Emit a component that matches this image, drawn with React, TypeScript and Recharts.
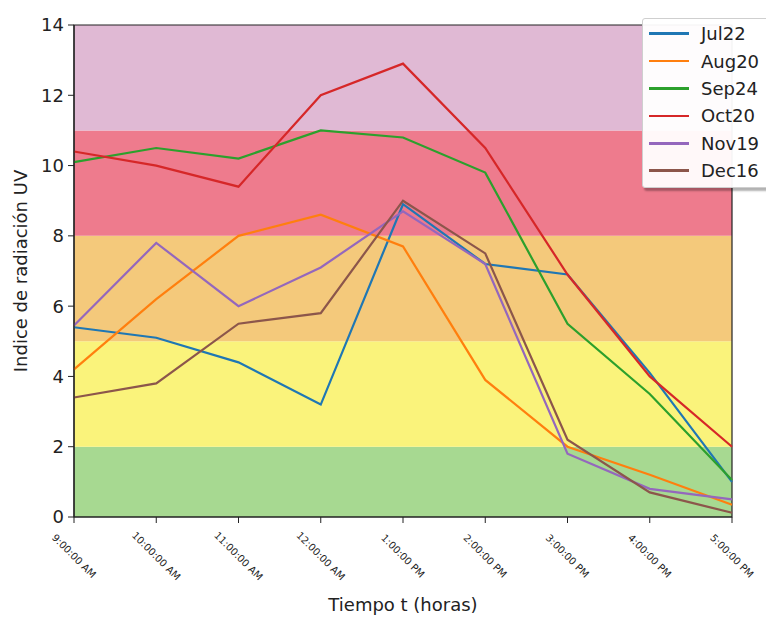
import React from 'react';
import {
  LineChart,
  Line,
  XAxis,
  YAxis,
  ReferenceArea,
  Label,
} from 'recharts';

const HOURS = [
  '9:00:00 AM',
  '10:00:00 AM',
  '11:00:00 AM',
  '12:00:00 AM',
  '1:00:00 PM',
  '2:00:00 PM',
  '3:00:00 PM',
  '4:00:00 PM',
  '5:00:00 PM',
];

const JUL22 = [5.4, 5.1, 4.4, 3.2, 8.9, 7.2, 6.9, 4.1, 1.0];
const AUG20 = [4.2, 6.2, 8.0, 8.6, 7.7, 3.9, 2.0, 1.2, 0.35];
const SEP24 = [10.1, 10.5, 10.2, 11.0, 10.8, 9.8, 5.5, 3.5, 1.05];
const OCT20 = [10.4, 10.0, 9.4, 12.0, 12.9, 10.5, 6.9, 4.0, 2.0];
const NOV19 = [5.45, 7.8, 6.0, 7.1, 8.7, 7.2, 1.8, 0.8, 0.5];
const DEC16 = [3.4, 3.8, 5.5, 5.8, 9.0, 7.5, 2.2, 0.7, 0.12];

const Y_TICKS = [0, 2, 4, 6, 8, 10, 12, 14];

// UV risk bands: [from, to, colour]
const BANDS: [number, number, string][] = [
  [0, 2, '#a7d991'],
  [2, 5, '#faf37b'],
  [5, 8, '#f4c97b'],
  [8, 11, '#ee7b8d'],
  [11, 14, '#e0b9d4'],
];

const SERIES = [
  { key: 'Jul22', values: JUL22, color: '#1f77b4' },
  { key: 'Aug20', values: AUG20, color: '#ff7f0e' },
  { key: 'Sep24', values: SEP24, color: '#2ca02c' },
  { key: 'Oct20', values: OCT20, color: '#d62728' },
  { key: 'Nov19', values: NOV19, color: '#9467bd' },
  { key: 'Dec16', values: DEC16, color: '#8c564b' },
];

const rows = HOURS.map((h, i) => {
  const row: Record<string, number | string> = { idx: i, hour: h };
  SERIES.forEach((s) => {
    row[s.key] = s.values[i];
  });
  return row;
});

const FONT = '"DejaVu Sans", sans-serif';
const INK = '#222';

function HourTick({ x, y, payload }: any) {
  const cy = y + 31;
  return (
    <text
      x={x}
      y={cy}
      transform={`rotate(45 ${x} ${cy})`}
      textAnchor="middle"
      dominantBaseline="central"
      fontSize={10}
      fontFamily={FONT}
      fill={INK}
    >
      {HOURS[payload.value]}
    </text>
  );
}

function LegendBox() {
  return (
    <div
      style={{
        position: 'absolute',
        left: 642,
        top: 18,
        width: 130,
        height: 170,
        boxSizing: 'border-box',
        background: 'rgba(255,255,255,0.95)',
        border: '1px solid #cfcfcf',
        borderRadius: 3,
        boxShadow: '2px 3px 2px rgba(0,0,0,0.3)',
        paddingTop: 1,
        fontFamily: FONT,
        fontSize: 18,
        color: INK,
      }}
    >
      {SERIES.map((s) => (
        <div
          key={s.key}
          style={{ display: 'flex', alignItems: 'center', height: 27.4 }}
        >
          <span
            style={{
              display: 'inline-block',
              width: 40,
              height: 2.5,
              marginLeft: 6,
              marginRight: 12,
              background: s.color,
            }}
          />
          <span>{s.key}</span>
        </div>
      ))}
    </div>
  );
}

export default function App() {
  return (
    <div
      style={{
        position: 'absolute',
        left: 0,
        top: 0,
        width: 766,
        height: 617,
        overflow: 'hidden',
        background: '#fff',
      }}
    >
      <LineChart
        width={766}
        height={617}
        data={rows}
        margin={{ top: 25, right: 34, bottom: 0, left: 0 }}
      >
        {BANDS.map(([y1, y2, c]) => (
          <ReferenceArea
            key={y1}
            y1={y1}
            y2={y2}
            fill={c}
            fillOpacity={1}
            stroke="none"
            ifOverflow="hidden"
          />
        ))}
        <XAxis
          dataKey="idx"
          type="number"
          domain={[0, 8]}
          ticks={HOURS.map((_, i) => i)}
          interval={0}
          height={100}
          tickSize={6}
          tickLine={{ stroke: INK }}
          axisLine={{ stroke: INK, strokeWidth: 1.2 }}
          tick={<HourTick />}
        >
          <Label
            value="Tiempo t (horas)"
            position="insideBottom"
            offset={6}
            style={{ fontSize: 18, fontFamily: FONT, fill: INK }}
          />
        </XAxis>
        <YAxis
          type="number"
          domain={[0, 14]}
          ticks={Y_TICKS}
          width={74}
          tickSize={6}
          tickMargin={4}
          tickLine={{ stroke: INK }}
          axisLine={{ stroke: INK, strokeWidth: 1.2 }}
          tick={{ fontSize: 18, fontFamily: FONT, fill: INK }}
          label={{
            content: () => (
              <text
                x={20}
                y={271}
                transform="rotate(-90 20 271)"
                textAnchor="middle"
                dominantBaseline="central"
                fontSize={18}
                fontFamily={FONT}
                fill={INK}
              >
                Indice de radiación UV
              </text>
            ),
          }}
        />
        {SERIES.map((s) => (
          <Line
            key={s.key}
            dataKey={s.key}
            stroke={s.color}
            strokeWidth={2.2}
            dot={false}
            activeDot={false}
            isAnimationActive={false}
          />
        ))}
        <ReferenceArea
          y1={0}
          y2={14}
          fill="none"
          stroke={INK}
          strokeWidth={1.2}
        />
      </LineChart>
      <LegendBox />
    </div>
  );
}
